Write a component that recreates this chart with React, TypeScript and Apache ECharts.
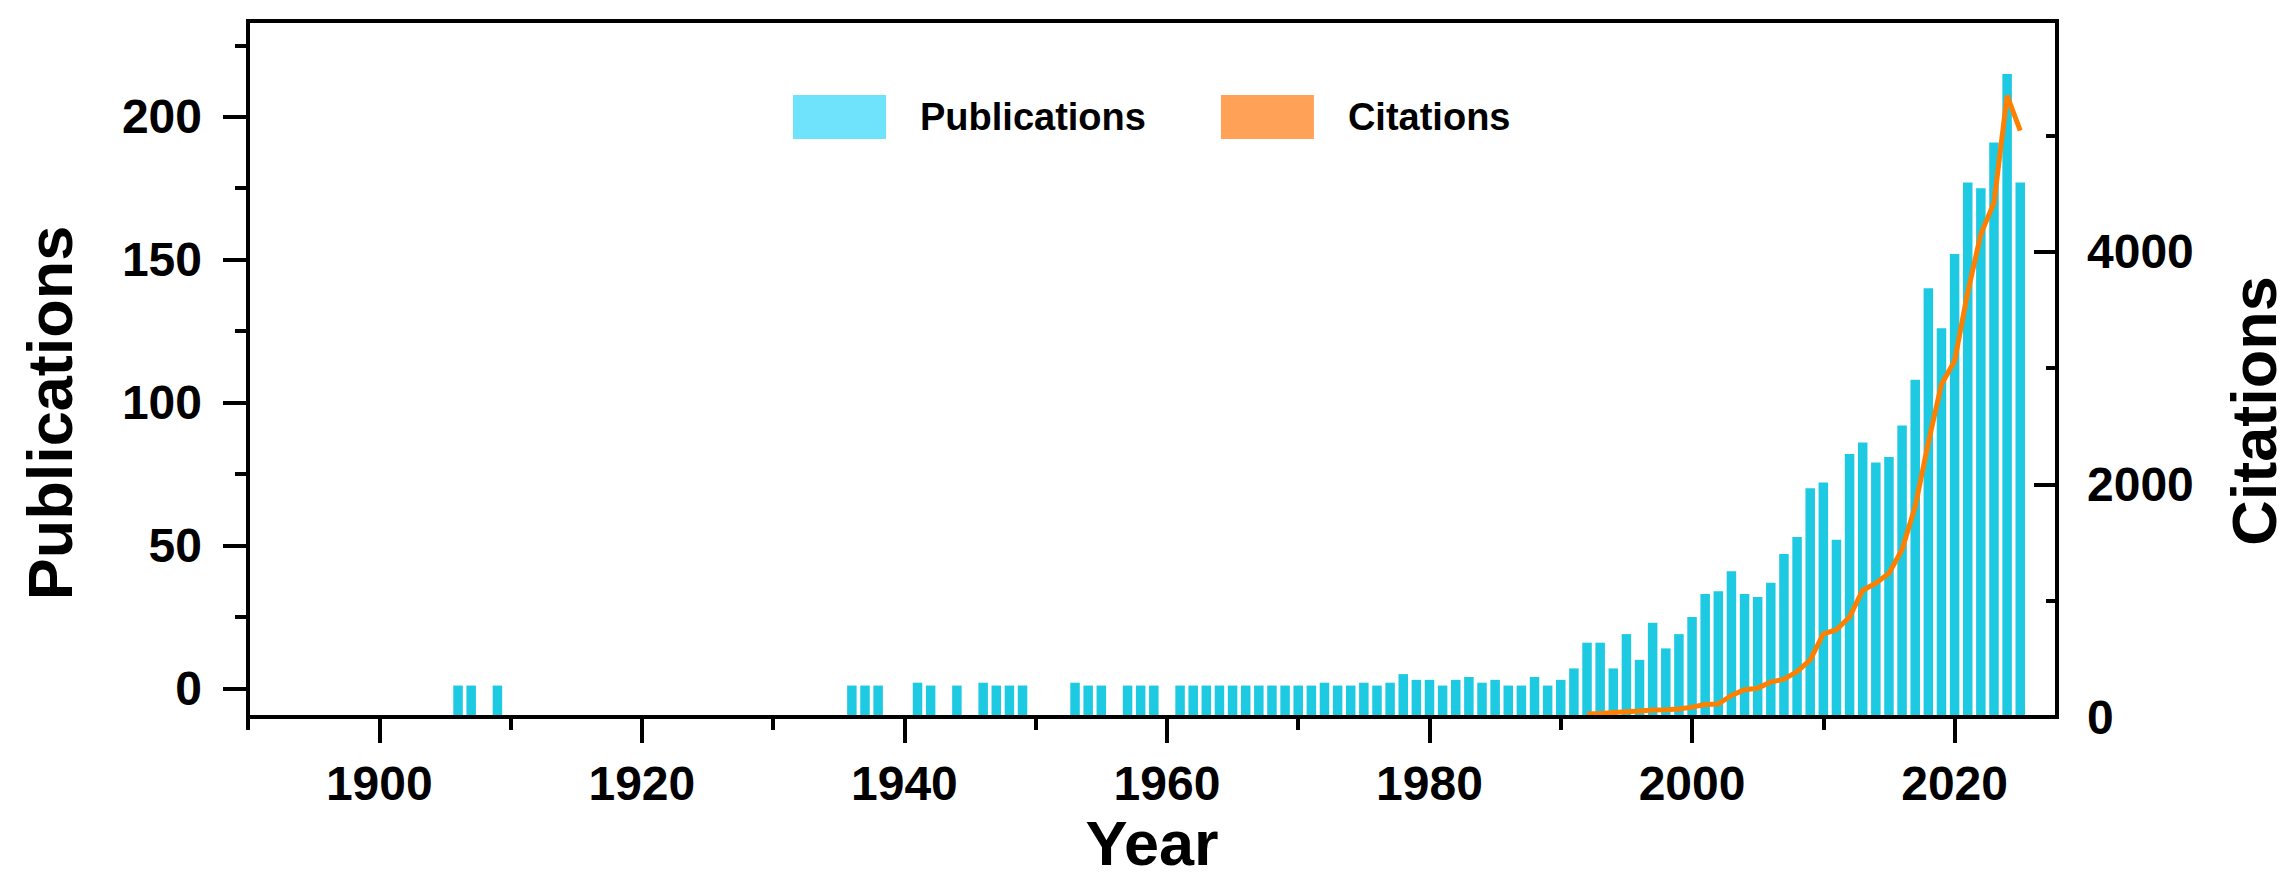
import React, { useEffect, useRef } from 'react';
import * as echarts from 'echarts';

// ---- Data ----
const pubYears = [
  1906, 1907, 1909,
  1936, 1937, 1938,
  1941, 1942, 1944, 1946, 1947, 1948, 1949,
  1953, 1954, 1955, 1957, 1958, 1959,
  1961, 1962, 1963, 1964, 1965, 1966, 1967, 1968, 1969, 1970,
  1971, 1972, 1973, 1974, 1975, 1976, 1977, 1978, 1979, 1980,
  1981, 1982, 1983, 1984, 1985, 1986, 1987, 1988, 1989, 1990,
  1991, 1992, 1993, 1994, 1995, 1996, 1997, 1998, 1999, 2000,
  2001, 2002, 2003, 2004, 2005, 2006, 2007, 2008, 2009, 2010,
  2011, 2012, 2013, 2014, 2015, 2016, 2017, 2018, 2019, 2020,
  2021, 2022, 2023, 2024, 2025,
];
const pubValues = [
  1, 1, 1,
  1, 1, 1,
  2, 1, 1, 2, 1, 1, 1,
  2, 1, 1, 1, 1, 1,
  1, 1, 1, 1, 1, 1, 1, 1, 1, 1,
  1, 2, 1, 1, 2, 1, 2, 5, 3, 3,
  1, 3, 4, 2, 3, 1, 1, 4, 1, 3,
  7, 16, 16, 7, 19, 10, 23, 14, 19, 25,
  33, 34, 41, 33, 32, 37, 47, 53, 70, 72,
  52, 82, 86, 79, 81, 92, 108, 140, 126, 152,
  177, 175, 191, 215, 177,
];

const citYears = [
  1992, 1993, 1994, 1995, 1996, 1997, 1998, 1999, 2000,
  2001, 2002, 2003, 2004, 2005, 2006, 2007, 2008, 2009, 2010,
  2011, 2012, 2013, 2014, 2015, 2016, 2017, 2018, 2019, 2020,
  2021, 2022, 2023, 2024, 2025,
];
const citValues = [
  25, 30, 38, 45, 52, 60, 62, 68, 85,
  108, 112, 185, 235, 248, 300, 325, 390, 490, 715,
  750, 860, 1090, 1150, 1235, 1440, 1810, 2360, 2860, 3060,
  3650, 4150, 4420, 5340, 5040,
];

const xMajorTicks = [1900, 1920, 1940, 1960, 1980, 2000, 2020];
const xMinorTicks = [1890, 1910, 1930, 1950, 1970, 1990, 2010];
const leftMajorTicks = [0, 50, 100, 150, 200];
const leftMinorTicks = [25, 75, 125, 175, 225];
const rightMajorTicks = [0, 2000, 4000];
const rightMinorTicks = [1000, 3000, 5000];

const FONT = '"Liberation Sans", Arial, sans-serif';
const BLACK = '#000000';

const X_MIN = 1890;
const X_MAX = 2027.8;
const L_MIN = -10;
const L_MAX = 233.5;
const R_MIN = 0;
const R_MAX = 5982;

const plain = (v: number) => String(v);

const tickLabel = {
  color: BLACK,
  fontSize: 48,
  fontWeight: 'bold' as const,
  fontFamily: FONT,
  formatter: plain,
};

function buildOption() {
  const tickLine = { color: BLACK, width: 4 };
  const noLine = { show: false, onZero: false };
  return {
    animation: false,
    backgroundColor: '#ffffff',
    grid: {
      left: 248,
      right: 238,
      top: 21,
      bottom: 170,
      show: true,
      borderColor: BLACK,
      borderWidth: 4,
      backgroundColor: 'transparent',
      z: 5,
    },
    legend: {
      left: 793,
      top: 95,
      padding: 0,
      itemWidth: 93,
      itemHeight: 44,
      itemGap: 75,
      icon: 'rect',
      selectedMode: false,
      textStyle: {
        color: BLACK,
        fontSize: 38,
        fontWeight: 'bold',
        fontFamily: FONT,
        padding: [0, 0, 0, 29],
      },
      data: [
        { name: 'Publications', itemStyle: { color: '#6fe2fc' } },
        { name: 'Citations', itemStyle: { color: '#ffa257' } },
      ],
    },
    xAxis: [
      {
        type: 'value',
        position: 'bottom',
        min: X_MIN,
        max: X_MAX,
        axisLine: noLine,
        splitLine: { show: false },
        axisTick: { show: true, customValues: xMajorTicks, length: 26, lineStyle: tickLine },
        axisLabel: { show: true, customValues: xMajorTicks, margin: 42, ...tickLabel },
      },
      {
        type: 'value',
        position: 'bottom',
        min: X_MIN,
        max: X_MAX,
        axisLine: noLine,
        splitLine: { show: false },
        axisTick: { show: true, customValues: xMinorTicks, length: 13, lineStyle: tickLine },
        axisLabel: { show: false },
      },
    ],
    yAxis: [
      {
        type: 'value',
        position: 'left',
        min: L_MIN,
        max: L_MAX,
        startValue: L_MIN,
        axisLine: noLine,
        splitLine: { show: false },
        axisTick: { show: true, customValues: leftMajorTicks, length: 25, lineStyle: tickLine },
        axisLabel: { show: true, customValues: leftMajorTicks, margin: 46, ...tickLabel },
      },
      {
        type: 'value',
        position: 'left',
        min: L_MIN,
        max: L_MAX,
        axisLine: noLine,
        splitLine: { show: false },
        axisTick: { show: true, customValues: leftMinorTicks, length: 13, lineStyle: tickLine },
        axisLabel: { show: false },
      },
      {
        type: 'value',
        position: 'right',
        min: R_MIN,
        max: R_MAX,
        axisLine: noLine,
        splitLine: { show: false },
        axisTick: { show: true, inside: true, customValues: rightMajorTicks, length: 23, lineStyle: tickLine },
        axisLabel: { show: true, customValues: rightMajorTicks, margin: 30, ...tickLabel },
      },
      {
        type: 'value',
        position: 'right',
        min: R_MIN,
        max: R_MAX,
        axisLine: noLine,
        splitLine: { show: false },
        axisTick: { show: true, inside: true, customValues: rightMinorTicks, length: 11, lineStyle: tickLine },
        axisLabel: { show: false },
      },
    ],
    series: [
      {
        type: 'bar',
        name: 'Publications',
        xAxisIndex: 0,
        yAxisIndex: 0,
        barWidth: 9.5,
        itemStyle: { color: '#1ec9e2' },
        data: pubYears.map((y, i) => [y, pubValues[i]]),
        z: 2,
      },
      {
        type: 'line',
        name: 'Citations',
        xAxisIndex: 0,
        yAxisIndex: 2,
        symbol: 'none',
        showSymbol: false,
        lineStyle: { color: '#ff7f00', width: 5 },
        itemStyle: { color: '#ff7f00' },
        data: citYears.map((y, i) => [y, citValues[i]]),
        z: 3,
      },
    ],
    graphic: [
      {
        type: 'text',
        x: 50,
        y: 413,
        rotation: Math.PI / 2,
        style: {
          text: 'Publications',
          font: `bold 63px ${FONT}`,
          fill: BLACK,
          align: 'center',
          verticalAlign: 'middle',
          textAlign: 'center',
          textVerticalAlign: 'middle',
        },
      },
      {
        type: 'text',
        x: 2254,
        y: 411,
        rotation: Math.PI / 2,
        style: {
          text: 'Citations',
          font: `bold 63px ${FONT}`,
          fill: BLACK,
          align: 'center',
          verticalAlign: 'middle',
          textAlign: 'center',
          textVerticalAlign: 'middle',
        },
      },
      {
        type: 'text',
        x: 1152,
        y: 843,
        style: {
          text: 'Year',
          font: `bold 63px ${FONT}`,
          fill: BLACK,
          align: 'center',
          verticalAlign: 'middle',
          textAlign: 'center',
          textVerticalAlign: 'middle',
        },
      },
    ],
  };
}

export default function App() {
  const ref = useRef<HTMLDivElement>(null);
  useEffect(() => {
    document.body.style.margin = '0';
    if (!ref.current) return;
    const chart = echarts.init(ref.current, undefined, { renderer: 'svg' });
    chart.setOption(buildOption() as any);
    return () => {
      chart.dispose();
    };
  }, []);
  return (
    <div
      ref={ref}
      style={{ position: 'absolute', left: 0, top: 0, width: 2295, height: 887, background: '#fff' }}
    />
  );
}
